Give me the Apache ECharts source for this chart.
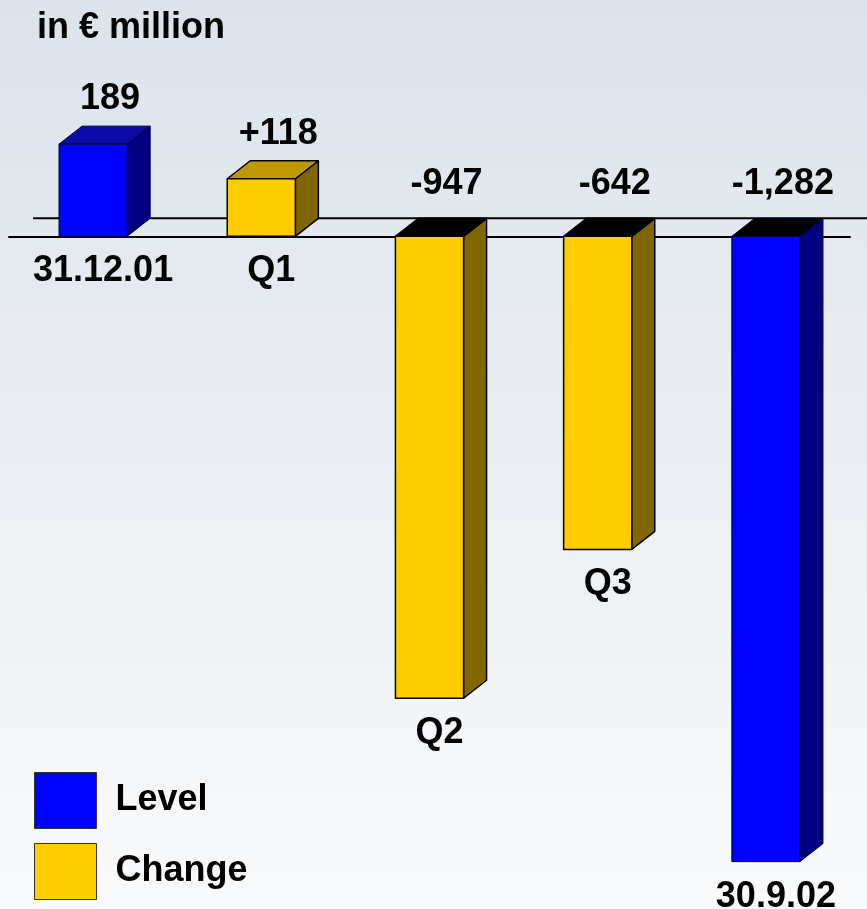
<!DOCTYPE html>
<html>
<head>
<meta charset="utf-8">
<script src="https://cdn.jsdelivr.net/npm/echarts@6/dist/echarts.min.js"></script>
<style>
html,body{margin:0;padding:0;}
#chart{width:867px;height:909px;}
</style>
</head>
<body>
<div id="chart"></div>
<script>
const categories = ['31.12.01', 'Q1', 'Q2', 'Q3', '30.9.02'];
const values = [189, 118, -947, -642, -1282];
const kinds = ['Level', 'Change', 'Change', 'Change', 'Level'];
const titleText = 'in \u20AC million';

const FONT = 'bold 36px "Liberation Sans", Arial, sans-serif';
const DX = 23, DY = 18;
const colors = {
  Level: { front: '#0000FF', side: '#000080', top: '#0A0AA8', stroke: '#000033', lw: 1 },
  Change: { front: '#FFCC00', side: '#806600', top: '#BF9900', stroke: '#000000', lw: 1.5 }
};

function fmt(v, kind) {
  const s = Math.abs(v).toLocaleString('en-US');
  if (v < 0) return '-' + s;
  return (kind === 'Change' ? '+' : '') + s;
}

function makeRender(kind) {
  const c = colors[kind];
  return function (params, api) {
    const idx = api.value(0), v = api.value(1);
    const c0 = api.coord([idx, 0]);
    const c1 = api.coord([idx, v]);
    const bw = api.size([1, 0])[0] * 0.405;
    const x = c0[0] - bw / 2;
    const top = Math.min(c0[1], c1[1]);
    const bot = Math.max(c0[1], c1[1]);
    const neg = v < 0;
    const stroke = { stroke: c.stroke, lineWidth: c.lw, lineJoin: 'round' };
    const labelY = neg ? c0[1] - DY - 34 : top - DY - 27;
    return {
      type: 'group',
      children: [
        { type: 'polygon', shape: { points: [[x + bw, top], [x + bw + DX, top - DY], [x + bw + DX, bot - DY], [x + bw, bot]] },
          style: Object.assign({ fill: c.side }, stroke) },
        { type: 'polygon', shape: { points: [[x, top], [x + DX, top - DY], [x + bw + DX, top - DY], [x + bw, top]] },
          style: Object.assign({ fill: neg ? '#000000' : c.top }, stroke) },
        { type: 'rect', shape: { x: x, y: top, width: bw, height: bot - top },
          style: Object.assign({ fill: c.front }, stroke) },
        { type: 'text', x: c0[0] + 17, y: labelY,
          style: { text: fmt(v, kind), font: FONT, fill: '#000', textAlign: 'center', textVerticalAlign: 'middle', align: 'center', verticalAlign: 'middle' } },
        { type: 'text', x: c0[0] + 10, y: bot + 35,
          style: { text: categories[idx], font: FONT, fill: '#000', textAlign: 'center', textVerticalAlign: 'middle', align: 'center', verticalAlign: 'middle' } }
      ]
    };
  };
}

function dataFor(kind) {
  const out = [];
  values.forEach((v, i) => { if (kinds[i] === kind) out.push([i, v]); });
  return out;
}

const chart = echarts.init(document.getElementById('chart'), null, { renderer: 'canvas' });
chart.setOption({
  animation: false,
  backgroundColor: {
    type: 'linear', x: 0, y: 0, x2: 0, y2: 1,
    colorStops: [{ offset: 0, color: '#DCE3EB' }, { offset: 1, color: '#F9FAFB' }]
  },
  title: {
    text: titleText, left: 32, top: 5,
    textStyle: { fontFamily: '"Liberation Sans", Arial, sans-serif', fontWeight: 'bold', fontSize: 36, color: '#000' }
  },
  legend: {
    orient: 'vertical', left: 29, top: 767, icon: 'rect',
    itemWidth: 62, itemHeight: 56, itemGap: 14,
    textStyle: { fontFamily: '"Liberation Sans", Arial, sans-serif', fontWeight: 'bold', fontSize: 36, color: '#000', padding: [0, 0, 0, 14] },
    data: [
      { name: 'Level', itemStyle: { color: '#0000FF', borderColor: '#333', borderWidth: 1 } },
      { name: 'Change', itemStyle: { color: '#FFCC00', borderColor: '#333', borderWidth: 1 } }
    ]
  },
  grid: { left: 9, width: 841, top: 90, height: 780.4 },
  xAxis: {
    type: 'category', data: categories, boundaryGap: true,
    axisLine: { show: true, lineStyle: { color: '#000', width: 2 } },
    axisTick: { show: false }, axisLabel: { show: false }, splitLine: { show: false }
  },
  yAxis: { type: 'value', min: -1300, max: 300, show: false, splitLine: { show: false } },
  series: [
    {
      name: 'backline', type: 'custom', z: 1, silent: true,
      data: [[0, 0]],
      renderItem: function (params, api) {
        const cs = params.coordSys;
        const p = api.coord([0, 0]);
        const y = p[1] - DY;
        return { type: 'line', shape: { x1: cs.x + 24, y1: y, x2: cs.x + cs.width + 17, y2: y },
          style: { stroke: '#000', lineWidth: 2 } };
      }
    },
    { name: 'Level', type: 'custom', z: 3, itemStyle: { color: '#0000FF' }, data: dataFor('Level'), renderItem: makeRender('Level') },
    { name: 'Change', type: 'custom', z: 3, itemStyle: { color: '#FFCC00' }, data: dataFor('Change'), renderItem: makeRender('Change') }
  ]
});
</script>
</body>
</html>
